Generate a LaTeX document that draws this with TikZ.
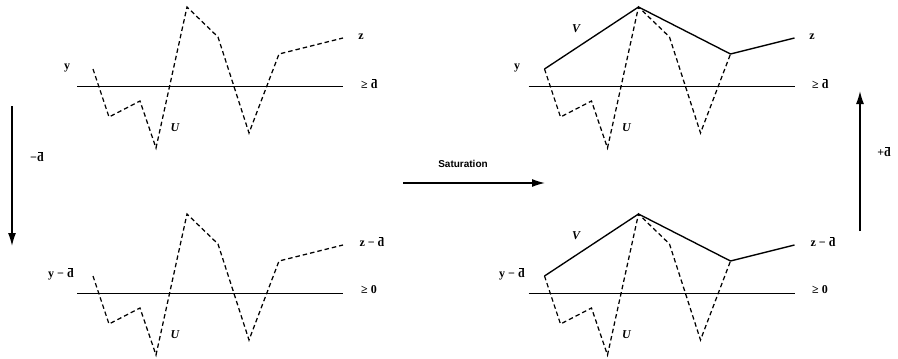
\documentclass[tikz,border=0pt]{standalone}
\usepackage{fontspec}
\setmainfont{Liberation Serif}
\newfontfamily\satfont{Liberation Sans}
\usetikzlibrary{arrows.meta}
\newcommand{\dbr}{{\setbox0\hbox{d}\rlap{\hspace{0.15\wd0}\raisebox{\dimexpr\ht0+0.9pt\relax}{\rule{0.7\wd0}{0.6pt}}}d}}
\begin{document}
\begin{tikzpicture}[x=1pt,y=-1pt,
  lbl/.style={font=\fontsize{12}{14}\selectfont\bfseries, inner sep=0pt},
  ilbl/.style={font=\fontsize{12}{14}\selectfont\bfseries\itshape, inner sep=0pt},
  dashline/.style={line width=1.25pt, dash pattern=on 4.5pt off 3pt},
  baseline/.style={line width=0.9pt},
  vline/.style={line width=1.35pt, line join=miter},
  bigarrow/.style={line width=1.3pt, -{Latex[length=13pt,width=8pt]}}]
\useasboundingbox (0,0) rectangle (898,359);
% four panels
\foreach \px/\py/\pn in {0/0/tl, 0/207/bl, 451.5/0/tr, 451.5/207/br}{
  \begin{scope}[shift={(\px,\py)}, name prefix=\pn-]
    \coordinate (l0) at (77,86);
    \coordinate (l1) at (343,86);
    \coordinate (p0) at (93,69);
    \coordinate (p1) at (109,117);
    \coordinate (p2) at (140,101);
    \coordinate (p3) at (156,148);
    \coordinate (p4) at (187,7);
    \coordinate (p5) at (218,37);
    \coordinate (p6) at (249,133);
    \coordinate (p7) at (279,54);
    \coordinate (p8) at (343,38);
    \draw[baseline] (l0) -- (l1);
    \node[ilbl] (u) at (175,128) {U};
  \end{scope}
}
% left panels: dashed path all the way
\draw[dashline] (tl-p0) -- (tl-p1) -- (tl-p2) -- (tl-p3) -- (tl-p4) -- (tl-p5) -- (tl-p6) -- (tl-p7) -- (tl-p8);
\draw[dashline] (bl-p0) -- (bl-p1) -- (bl-p2) -- (bl-p3) -- (bl-p4) -- (bl-p5) -- (bl-p6) -- (bl-p7) -- (bl-p8);
% right panels: dashed path and solid envelope V
\draw[dashline] (tr-p0) -- (tr-p1) -- (tr-p2) -- (tr-p3) -- (tr-p4) -- (tr-p5) -- (tr-p6) -- (tr-p7);
\draw[vline] (tr-p0) -- (tr-p4) -- (tr-p7) -- (tr-p8);
\draw[dashline] (br-p0) -- (br-p1) -- (br-p2) -- (br-p3) -- (br-p4) -- (br-p5) -- (br-p6) -- (br-p7);
\draw[vline] (br-p0) -- (br-p4) -- (br-p7) -- (br-p8);
% labels
\node[lbl] (tly) at (67,68) {y};
\node[lbl] (tlz) at (361,37) {z};
\node[lbl,anchor=west] (tlg) at (361,84) {≥ \dbr};
\node[lbl] (bly) at (61,274) {y − \dbr};
\node[lbl] (blz) at (372,242) {z − \dbr};
\node[lbl,anchor=west] (blg) at (361,290) {≥ 0};
\node[lbl] (try) at (517,68) {y};
\node[ilbl] (trv) at (576,29) {V};
\node[lbl] (trz) at (812,37) {z};
\node[lbl,anchor=west] (trg) at (812,84) {≥ \dbr};
\node[lbl] (bry) at (512,274) {y − \dbr};
\node[ilbl] (brv) at (576,236) {V};
\node[lbl] (brz) at (823,242) {z − \dbr};
\node[lbl,anchor=west] (brg) at (812,290) {≥ 0};
% transformation arrows
\coordinate (a0) at (12,106);
\coordinate (a1) at (12,246);
\draw[bigarrow] (a0) -- (a1);
\node[lbl] (minusd) at (37,157) {−\dbr};
\coordinate (b0) at (860,231);
\coordinate (b1) at (860,91);
\draw[bigarrow] (b0) -- (b1);
\node[lbl] (plusd) at (884,152) {+\dbr};
\coordinate (s0) at (403,183);
\coordinate (s1) at (545,183);
\draw[bigarrow] (s0) -- (s1);
\node[font=\fontsize{10}{12}\selectfont\satfont\bfseries, inner sep=0pt] (sat) at (463,164) {Saturation};
\end{tikzpicture}
\end{document}
